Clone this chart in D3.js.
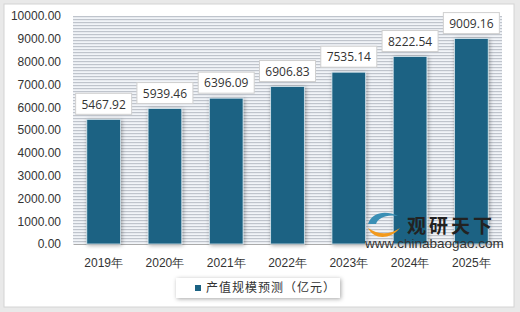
<!DOCTYPE html>
<html>
<head>
<meta charset="utf-8">
<script src="https://cdn.jsdelivr.net/npm/d3@7"></script>
<style>
body { margin: 0; background: #e9e9e9; }
svg { display: block; font-family: "Open Sans", "Noto Sans CJK SC", sans-serif; }
</style>
</head>
<body>
<div id="chart"></div>
<script>
var years = ["2019年", "2020年", "2021年", "2022年", "2023年", "2024年", "2025年"];
var values = [5467.92, 5939.46, 6396.09, 6906.83, 7535.14, 8222.54, 9009.16];
var yTicks = [0, 1000, 2000, 3000, 4000, 5000, 6000, 7000, 8000, 9000, 10000];
var seriesName = "产值规模预测（亿元）";

var W = 520, H = 312;
var margin = {top: 16, right: 18, bottom: 68, left: 73},
    width = W - margin.left - margin.right,
    height = H - margin.top - margin.bottom;

var svg = d3.select("#chart")
.append("svg")
.attr("width", W)
.attr("height", H);

var defs = svg.append("defs");

// striped plot background
var pat = defs.append("pattern")
.attr("id", "stripes")
.attr("width", 6).attr("height", 3)
.attr("patternUnits", "userSpaceOnUse");
pat.append("rect").attr("width", 6).attr("height", 3).attr("fill", "#f1f4f8");
pat.append("rect").attr("width", 6).attr("height", 1.2).attr("fill", "#bfc4cc");

var shadow = defs.append("filter").attr("id", "shadow")
.attr("x", "-30%").attr("y", "-20%").attr("width", "160%").attr("height", "150%");
shadow.append("feDropShadow").attr("dx", 1).attr("dy", 1).attr("stdDeviation", 2)
.attr("flood-color", "#000").attr("flood-opacity", 0.35);

// card
svg.append("rect")
.attr("x", 4).attr("y", 4).attr("width", 510).attr("height", 303)
.attr("fill", "#fff").attr("stroke", "#d4d4d4");

var g = svg.append("g")
.attr("transform", "translate(" + margin.left + "," + margin.top + ")");

g.append("rect")
.attr("width", width).attr("height", height)
.attr("fill", "url(#stripes)");

var x = d3.scaleBand()
.range([0, width])
.domain(years)
.paddingInner(0.45)
.paddingOuter(0.225);

var y = d3.scaleLinear()
.domain([0, 10000])
.range([height, 0]);

// Y axis
var yAxis = g.append("g")
.attr("transform", "translate(-9,0)")
.call(d3.axisLeft(y).tickValues(yTicks).tickSize(0).tickFormat(function(d) { return d3.format(".2f")(d); }));
yAxis.select(".domain").remove();
yAxis.selectAll("text").attr("font-size", 12).attr("fill", "#333");

// X axis
var xAxis = g.append("g")
.attr("transform", "translate(0," + height + ")")
.call(d3.axisBottom(x).tickSize(0).tickPadding(14));
xAxis.select(".domain").attr("stroke", "#aaa");
xAxis.selectAll("text").attr("font-size", 12).attr("fill", "#333");

// Bars
g.selectAll("rect.bar")
.data(values)
.enter()
.append("rect")
.attr("class", "bar")
.attr("x", function(d, i) { return x(years[i]); })
.attr("y", function(d) { return y(d); })
.attr("width", x.bandwidth())
.attr("height", function(d) { return height - y(d); })
.attr("fill", "#1a6283")
.attr("stroke", "#d8e6ee")
.attr("stroke-width", 0.8)
.attr("filter", "url(#shadow)");

// data labels
var labels = g.selectAll("g.lbl")
.data(values)
.enter()
.append("g")
.attr("class", "lbl")
.attr("transform", function(d, i) { return "translate(" + (x(years[i]) + x.bandwidth() / 2) + "," + (y(d) - 15) + ")"; });
labels.append("rect")
.attr("x", -28).attr("y", -11).attr("width", 56).attr("height", 21)
.attr("fill", "#fff").attr("stroke", "#d0d0d0");
labels.append("text")
.attr("text-anchor", "middle")
.attr("dy", "0.35em")
.attr("font-size", 12)
.attr("fill", "#333")
.text(function(d) { return d3.format(".2f")(d); });

// legend
var lg = svg.append("g").attr("transform", "translate(176,278)");
lg.append("rect").attr("width", 164).attr("height", 20)
.attr("fill", "#fff").attr("filter", "url(#shadow)");
lg.append("rect").attr("x", 19).attr("y", 7).attr("width", 6).attr("height", 6).attr("fill", "#1a6283");
lg.append("text").attr("x", 30).attr("y", 10).attr("dy", "0.35em")
.attr("font-size", 12).attr("fill", "#333").attr("letter-spacing", 1)
.text(seriesName);

// watermark
var wm = svg.append("g").attr("transform", "translate(366,226)");
wm.append("path").attr("d", "M2,-2 C6,-14 20,-16 32,-10 C20,-12 12,-8 10,-2 Z").attr("fill", "#3a8fb5");
wm.append("path").attr("d", "M2,2 C8,14 24,14 34,2 C24,9 12,9 2,2 Z").attr("fill", "#f29a1e");
wm.append("text").attr("x", 41).attr("y", 7).attr("font-size", 19).attr("font-weight", "bold")
.attr("fill", "#222").attr("letter-spacing", 3).attr("font-family", "Noto Sans CJK SC").text("观研天下");
wm.append("text").attr("x", -1).attr("y", 22).attr("font-size", 13.5)
.attr("fill", "#333").attr("font-family", "Liberation Sans").text("www.chinabaogao.com");
</script>
</body>
</html>
